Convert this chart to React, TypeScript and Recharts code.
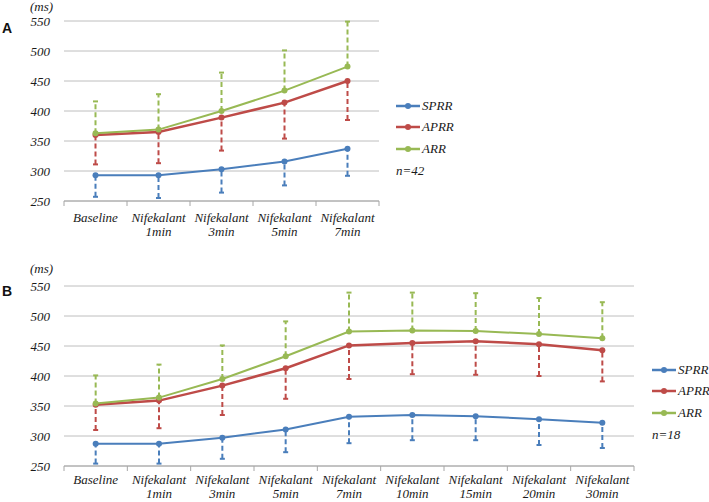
import { LineChart, Line, XAxis, YAxis, CartesianGrid, ErrorBar } from "recharts";

const catsA = ["Baseline", "Nifekalant\n1min", "Nifekalant\n3min", "Nifekalant\n5min", "Nifekalant\n7min"];
const sprrA = [293, 293, 303, 316, 337];
const sprrLowA = [257, 255, 264, 276, 292];
const aprrA = [360, 365, 389, 414, 450];
const aprrLowA = [311, 313, 334, 354, 385];
const arrA = [363, 369, 400, 434, 474];
const arrHighA = [416, 428, 464, 501, 549];

const catsB = [
  "Baseline",
  "Nifekalant\n1min",
  "Nifekalant\n3min",
  "Nifekalant\n5min",
  "Nifekalant\n7min",
  "Nifekalant\n10min",
  "Nifekalant\n15min",
  "Nifekalant\n20min",
  "Nifekalant\n30min",
];
const sprrB = [287, 287, 297, 311, 332, 335, 333, 328, 322];
const sprrLowB = [254, 254, 262, 273, 288, 293, 293, 285, 280];
const aprrB = [352, 359, 384, 413, 451, 455, 458, 453, 443];
const aprrLowB = [310, 313, 335, 362, 395, 403, 402, 400, 391];
const arrB = [354, 364, 395, 433, 474, 476, 475, 470, 463];
const arrHighB = [401, 419, 451, 491, 539, 539, 538, 530, 523];

const yTicks = [250, 300, 350, 400, 450, 500, 550];

const BLUE = "#4A7EBB";
const RED = "#BE4B48";
const GREEN = "#98B954";
const SERIF = "Liberation Serif, Tinos, DejaVu Serif, serif";
const INK = "#1a1a1a";
const FS = 13;

const buildRows = (
  sprr: number[],
  sprrLow: number[],
  aprr: number[],
  aprrLow: number[],
  arr: number[],
  arrHigh: number[]
) =>
  sprr.map((v, i) => ({
    x: i + 0.5,
    sprr: v,
    sprrErr: [v - sprrLow[i], 0],
    aprr: aprr[i],
    aprrErr: [aprr[i] - aprrLow[i], 0],
    arr: arr[i],
    arrErr: [0, arrHigh[i] - arr[i]],
  }));

// two-line category labels
const makeTick = (cats: string[], first: number, step: number) => (props: any) => {
  const { x, y, payload } = props;
  const lines = cats[Math.round(payload.value - 0.5)].split("\n");
  return (
    <text x={x} y={y} textAnchor="middle" style={{ fontFamily: SERIF, fontStyle: "italic", fontSize: FS }} fill={INK}>
      {lines.map((l, i) => (
        <tspan key={i} x={x} y={y + first + i * step}>
          {l}
        </tspan>
      ))}
    </text>
  );
};

const LegendBox = ({ left, top, n }: { left: number; top: number; n: string }) => {
  const items = [
    { name: "SPRR", color: BLUE },
    { name: "APRR", color: RED },
    { name: "ARR", color: GREEN },
  ];
  return (
    <div style={{ position: "absolute", left, top, fontFamily: SERIF, fontStyle: "italic", fontSize: FS, color: INK }}>
      {items.map((it) => (
        <div key={it.name} style={{ display: "flex", alignItems: "center", height: 21.5, whiteSpace: "nowrap" }}>
          <svg width={24} height={10} style={{ marginRight: 2 }}>
            <line x1={0} y1={5} x2={24} y2={5} stroke={it.color} strokeWidth={2.5} />
            <circle cx={12} cy={5} r={3} fill={it.color} />
          </svg>
          <span>{it.name}</span>
        </div>
      ))}
      <div style={{ height: 21.5, lineHeight: "21.5px" }}>{n}</div>
    </div>
  );
};

type PanelProps = {
  top: number;
  height: number;
  marginTop: number;
  marginRight: number;
  labelHeight: number;
  labelFirst: number;
  labelStep: number;
  cats: string[];
  rows: any[];
};

const Panel = ({ top, height, marginTop, marginRight, labelHeight, labelFirst, labelStep, cats, rows }: PanelProps) => {
  const n = cats.length;
  const bounds = Array.from({ length: n + 1 }, (_, i) => i);
  const centers = cats.map((_, i) => i + 0.5);
  const dash = "5 3";
  return (
    <div style={{ position: "absolute", left: 0, top }}>
      <LineChart width={709} height={height} data={rows} margin={{ top: marginTop, right: marginRight, left: 4, bottom: 0 }}>
        <CartesianGrid vertical={false} stroke="#BEBEBE" xAxisId="c" />
        <XAxis
          xAxisId="b"
          dataKey="x"
          type="number"
          domain={[0, n]}
          ticks={bounds}
          height={6}
          tickSize={5}
          tickFormatter={() => ""}
          stroke="#A6A6A6"
          axisLine={{ stroke: "#A6A6A6" }}
          tickLine={{ stroke: "#A6A6A6" }}
        />
        <XAxis
          xAxisId="c"
          dataKey="x"
          type="number"
          domain={[0, n]}
          ticks={centers}
          height={labelHeight}
          axisLine={false}
          tickLine={false}
          tickSize={0}
          tickMargin={0}
          interval={0}
          tick={makeTick(cats, labelFirst, labelStep)}
        />
        <YAxis
          domain={[250, 550]}
          ticks={yTicks}
          width={60}
          axisLine={false}
          tickLine={false}
          tickMargin={8}
          tick={{ style: { fontFamily: SERIF, fontStyle: "italic", fontSize: FS }, fill: INK }}
        />
        <Line xAxisId="c" dataKey="sprr" stroke={BLUE} strokeWidth={2} dot={{ r: 3, fill: BLUE, stroke: BLUE, strokeWidth: 0 }} isAnimationActive={false}>
          <ErrorBar dataKey="sprrErr" direction="y" stroke={BLUE} strokeWidth={2} width={2.5} strokeDasharray={dash} />
        </Line>
        <Line xAxisId="c" dataKey="aprr" stroke={RED} strokeWidth={2.5} dot={{ r: 3, fill: RED, stroke: RED, strokeWidth: 0 }} isAnimationActive={false}>
          <ErrorBar dataKey="aprrErr" direction="y" stroke={RED} strokeWidth={2} width={2.5} strokeDasharray={dash} />
        </Line>
        <Line xAxisId="c" dataKey="arr" stroke={GREEN} strokeWidth={2} dot={{ r: 3, fill: GREEN, stroke: GREEN, strokeWidth: 0 }} isAnimationActive={false}>
          <ErrorBar dataKey="arrErr" direction="y" stroke={GREEN} strokeWidth={2} width={2.5} strokeDasharray={dash} />
        </Line>
      </LineChart>
    </div>
  );
};

const textStyle = { position: "absolute" as const, fontFamily: SERIF, fontStyle: "italic" as const, fontSize: FS, color: INK, lineHeight: "14px" };
const letterStyle = { position: "absolute" as const, fontFamily: "Liberation Sans, Arial, sans-serif", fontWeight: 700, fontSize: 14, color: "#111", lineHeight: "14px" };

export default function App() {
  const rowsA = buildRows(sprrA, sprrLowA, aprrA, aprrLowA, arrA, arrHighA);
  const rowsB = buildRows(sprrB, sprrLowB, aprrB, aprrLowB, arrB, arrHighB);
  return (
    <div style={{ position: "absolute", left: 0, top: 0, width: 709, height: 502, overflow: "hidden", background: "#fff" }}>
      <Panel top={0} height={245} marginTop={21} marginRight={330} labelHeight={38} labelFirst={15} labelStep={14} cats={catsA} rows={rowsA} />
      <Panel top={250} height={252} marginTop={36} marginRight={75} labelHeight={30} labelFirst={12} labelStep={14} cats={catsB} rows={rowsB} />
      <div style={{ ...textStyle, left: 30, top: 0 }}>(ms)</div>
      <div style={{ ...textStyle, left: 30, top: 262 }}>(ms)</div>
      <div style={{ ...letterStyle, left: 2, top: 21 }}>A</div>
      <div style={{ ...letterStyle, left: 2, top: 284 }}>B</div>
      <LegendBox left={396} top={95} n="n=42" />
      <LegendBox left={652} top={359} n="n=18" />
    </div>
  );
}
